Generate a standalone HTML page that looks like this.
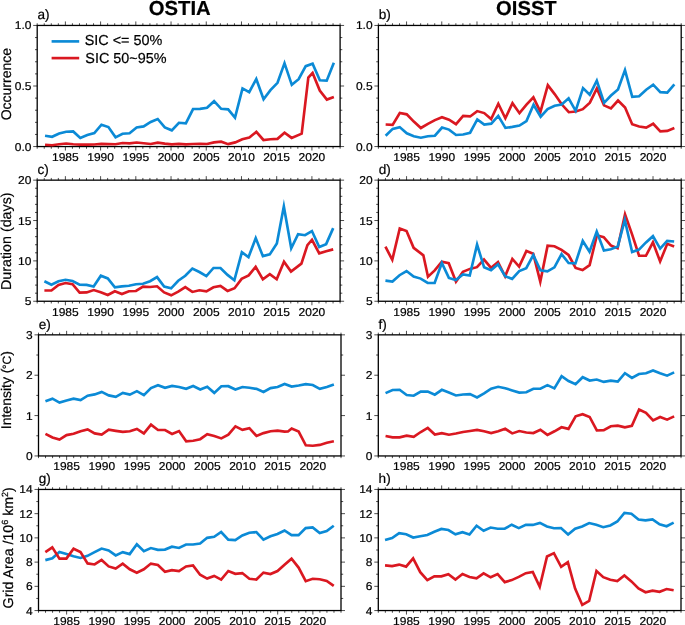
<!DOCTYPE html>
<html><head><meta charset="utf-8"><style>
html,body{margin:0;padding:0;background:#fff;}
svg{display:block;will-change:transform;}
text{font-family:"Liberation Sans", sans-serif;fill:#000;stroke:#000;stroke-width:0.2px;text-rendering:geometricPrecision;}
.t{font-size:11.4px;}
.p{font-size:14px;}
.ttl{font-size:19.6px;font-weight:bold;}
</style></head><body>
<svg width="685" height="625" viewBox="0 0 685 625">
<rect width="685" height="625" fill="#fff"/>
<rect x="37.2" y="25.45" width="302.9" height="121.1" fill="none" stroke="#000" stroke-width="1.3"/>
<path d="M33.2 146.55h4M340.1 146.55h4M35 134.44h2.2M340.1 134.44h2.2M35 122.33h2.2M340.1 122.33h2.2M35 110.22h2.2M340.1 110.22h2.2M35 98.11h2.2M340.1 98.11h2.2M33.2 86h4M340.1 86h4M35 73.89h2.2M340.1 73.89h2.2M35 61.78h2.2M340.1 61.78h2.2M35 49.67h2.2M340.1 49.67h2.2M35 37.56h2.2M340.1 37.56h2.2M33.2 25.45h4M340.1 25.45h4M37.2 23.25v2.2M37.2 146.55v2.2M44.24 23.25v2.2M44.24 146.55v2.2M51.29 23.25v2.2M51.29 146.55v2.2M58.33 23.25v2.2M58.33 146.55v2.2M65.38 21.45v4M65.38 146.55v4M72.42 23.25v2.2M72.42 146.55v2.2M79.47 23.25v2.2M79.47 146.55v2.2M86.51 23.25v2.2M86.51 146.55v2.2M93.55 23.25v2.2M93.55 146.55v2.2M100.6 21.45v4M100.6 146.55v4M107.64 23.25v2.2M107.64 146.55v2.2M114.69 23.25v2.2M114.69 146.55v2.2M121.73 23.25v2.2M121.73 146.55v2.2M128.77 23.25v2.2M128.77 146.55v2.2M135.82 21.45v4M135.82 146.55v4M142.86 23.25v2.2M142.86 146.55v2.2M149.91 23.25v2.2M149.91 146.55v2.2M156.95 23.25v2.2M156.95 146.55v2.2M164 23.25v2.2M164 146.55v2.2M171.04 21.45v4M171.04 146.55v4M178.08 23.25v2.2M178.08 146.55v2.2M185.13 23.25v2.2M185.13 146.55v2.2M192.17 23.25v2.2M192.17 146.55v2.2M199.22 23.25v2.2M199.22 146.55v2.2M206.26 21.45v4M206.26 146.55v4M213.3 23.25v2.2M213.3 146.55v2.2M220.35 23.25v2.2M220.35 146.55v2.2M227.39 23.25v2.2M227.39 146.55v2.2M234.44 23.25v2.2M234.44 146.55v2.2M241.48 21.45v4M241.48 146.55v4M248.53 23.25v2.2M248.53 146.55v2.2M255.57 23.25v2.2M255.57 146.55v2.2M262.61 23.25v2.2M262.61 146.55v2.2M269.66 23.25v2.2M269.66 146.55v2.2M276.7 21.45v4M276.7 146.55v4M283.75 23.25v2.2M283.75 146.55v2.2M290.79 23.25v2.2M290.79 146.55v2.2M297.83 23.25v2.2M297.83 146.55v2.2M304.88 23.25v2.2M304.88 146.55v2.2M311.92 21.45v4M311.92 146.55v4M318.97 23.25v2.2M318.97 146.55v2.2M326.01 23.25v2.2M326.01 146.55v2.2M333.06 23.25v2.2M333.06 146.55v2.2M340.1 23.25v2.2M340.1 146.55v2.2" stroke="#000" stroke-width="0.7" fill="none"/>
<path d="M45.04,135.7 52.08,136.76 59.13,133.5 66.18,131.8 73.19,131.47 80.29,138.03 87.31,135 94.33,133.07 101.45,124.68 108.41,127.04 115.56,137.32 122.53,133.8 129.56,133.26 136.63,127.53 143.66,126.4 150.71,122 157.7,119.01 164.8,127.4 171.8,130.31 178.92,122.8 185.84,123.34 193.05,109.03 200.02,108.9 207.04,107.76 214.09,101.18 221.18,108.84 228.15,109.37 235,117.59 242.51,88.38 249.21,92.08 256.27,79.04 263.57,99.26 270.46,90.1 277.5,82.8 284.51,63.17 291.79,84.81 298.63,79.2 305.72,66.14 312.59,63.7 319.85,80.28 326.71,80.64 333.86,62.8" stroke="#0b8ad6" stroke-width="2.65" fill="none" stroke-linejoin="miter" stroke-miterlimit="10"/>
<path d="M45.04,144.8 52.09,145.2 59.13,144.2 66.18,143.5 73.22,144.2 80.27,144.6 87.31,144.6 94.35,144.5 101.4,143.9 108.44,144.1 115.49,144.2 122.53,143 129.57,143.3 136.62,142.5 143.66,143.2 150.71,144 157.75,142.7 164.8,143.6 171.84,144.3 178.88,143.9 185.93,144.3 192.97,144 200.02,143.9 207.06,144 214.1,142.4 221.15,141.7 228.19,144.16 235.24,142.4 242.28,139.3 249.33,137.5 256.34,131.85 263.46,139.99 270.46,139.3 277.48,138.85 284.56,132.75 291.61,137.87 301.7,133.62 308.32,77.61 312.59,73 319.77,90.5 326.87,99.6 333.86,97" stroke="#da1821" stroke-width="2.65" fill="none" stroke-linejoin="miter" stroke-miterlimit="10"/>
<text x="31.4" y="150.55" text-anchor="end" class="t" textLength="16.68" lengthAdjust="spacingAndGlyphs">0.0</text>
<text x="31.4" y="90" text-anchor="end" class="t" textLength="16.68" lengthAdjust="spacingAndGlyphs">0.5</text>
<text x="31.4" y="29.45" text-anchor="end" class="t" textLength="16.68" lengthAdjust="spacingAndGlyphs">1.0</text>
<text x="65.38" y="161.05" text-anchor="middle" class="t" textLength="26.69" lengthAdjust="spacingAndGlyphs">1985</text>
<text x="100.6" y="161.05" text-anchor="middle" class="t" textLength="26.69" lengthAdjust="spacingAndGlyphs">1990</text>
<text x="135.82" y="161.05" text-anchor="middle" class="t" textLength="26.69" lengthAdjust="spacingAndGlyphs">1995</text>
<text x="171.04" y="161.05" text-anchor="middle" class="t" textLength="26.69" lengthAdjust="spacingAndGlyphs">2000</text>
<text x="206.26" y="161.05" text-anchor="middle" class="t" textLength="26.69" lengthAdjust="spacingAndGlyphs">2005</text>
<text x="241.48" y="161.05" text-anchor="middle" class="t" textLength="26.69" lengthAdjust="spacingAndGlyphs">2010</text>
<text x="276.7" y="161.05" text-anchor="middle" class="t" textLength="26.69" lengthAdjust="spacingAndGlyphs">2015</text>
<text x="311.92" y="161.05" text-anchor="middle" class="t" textLength="26.69" lengthAdjust="spacingAndGlyphs">2020</text>
<text x="37.5" y="19.35" class="p" style="font-size:13.6px">a)</text>
<rect x="378.4" y="25.45" width="302.8" height="121.1" fill="none" stroke="#000" stroke-width="1.3"/>
<path d="M374.4 146.55h4M681.2 146.55h4M376.2 134.44h2.2M681.2 134.44h2.2M376.2 122.33h2.2M681.2 122.33h2.2M376.2 110.22h2.2M681.2 110.22h2.2M376.2 98.11h2.2M681.2 98.11h2.2M374.4 86h4M681.2 86h4M376.2 73.89h2.2M681.2 73.89h2.2M376.2 61.78h2.2M681.2 61.78h2.2M376.2 49.67h2.2M681.2 49.67h2.2M376.2 37.56h2.2M681.2 37.56h2.2M374.4 25.45h4M681.2 25.45h4M378.4 23.25v2.2M378.4 146.55v2.2M385.44 23.25v2.2M385.44 146.55v2.2M392.48 23.25v2.2M392.48 146.55v2.2M399.53 23.25v2.2M399.53 146.55v2.2M406.57 21.45v4M406.57 146.55v4M413.61 23.25v2.2M413.61 146.55v2.2M420.65 23.25v2.2M420.65 146.55v2.2M427.69 23.25v2.2M427.69 146.55v2.2M434.73 23.25v2.2M434.73 146.55v2.2M441.78 21.45v4M441.78 146.55v4M448.82 23.25v2.2M448.82 146.55v2.2M455.86 23.25v2.2M455.86 146.55v2.2M462.9 23.25v2.2M462.9 146.55v2.2M469.94 23.25v2.2M469.94 146.55v2.2M476.99 21.45v4M476.99 146.55v4M484.03 23.25v2.2M484.03 146.55v2.2M491.07 23.25v2.2M491.07 146.55v2.2M498.11 23.25v2.2M498.11 146.55v2.2M505.15 23.25v2.2M505.15 146.55v2.2M512.2 21.45v4M512.2 146.55v4M519.24 23.25v2.2M519.24 146.55v2.2M526.28 23.25v2.2M526.28 146.55v2.2M533.32 23.25v2.2M533.32 146.55v2.2M540.36 23.25v2.2M540.36 146.55v2.2M547.4 21.45v4M547.4 146.55v4M554.45 23.25v2.2M554.45 146.55v2.2M561.49 23.25v2.2M561.49 146.55v2.2M568.53 23.25v2.2M568.53 146.55v2.2M575.57 23.25v2.2M575.57 146.55v2.2M582.61 21.45v4M582.61 146.55v4M589.66 23.25v2.2M589.66 146.55v2.2M596.7 23.25v2.2M596.7 146.55v2.2M603.74 23.25v2.2M603.74 146.55v2.2M610.78 23.25v2.2M610.78 146.55v2.2M617.82 21.45v4M617.82 146.55v4M624.87 23.25v2.2M624.87 146.55v2.2M631.91 23.25v2.2M631.91 146.55v2.2M638.95 23.25v2.2M638.95 146.55v2.2M645.99 23.25v2.2M645.99 146.55v2.2M653.03 21.45v4M653.03 146.55v4M660.07 23.25v2.2M660.07 146.55v2.2M667.12 23.25v2.2M667.12 146.55v2.2M674.16 23.25v2.2M674.16 146.55v2.2M681.2 23.25v2.2M681.2 146.55v2.2" stroke="#000" stroke-width="0.7" fill="none"/>
<path d="M385.64,124.5 392.61,124.87 399.8,112.98 406.75,114.33 413.81,121.6 420.87,127.99 427.89,123.8 434.93,120.1 441.98,117.26 449.02,119.7 456.02,124.21 463.15,115.9 470.13,116.44 477.21,111.1 484.23,113.1 491.14,119 498.31,103.75 505.35,118.24 512.48,103.12 519.47,113.17 526.48,104.7 533.4,97.33 540.42,111.93 547.83,85.08 554.65,94.1 561.69,104.3 568.77,112.2 575.77,111.5 582.81,109.2 589.86,102.6 596.86,88.49 603.99,105.36 610.93,108.49 618.04,100.52 625.07,107.5 632.16,124.24 639.15,126.5 646.18,127.55 653.19,123.74 660.31,131.31 667.32,130.9 674.36,128" stroke="#da1821" stroke-width="2.65" fill="none" stroke-linejoin="miter" stroke-miterlimit="10"/>
<path d="M385.64,135.8 392.68,128.9 399.7,127.11 406.77,133.3 413.81,136.2 420.85,137.7 427.89,136.2 434.9,135.73 442.02,127.56 449.02,129.6 456.08,134.95 463.1,134.5 470.09,132.74 477.29,119.47 484.25,124.63 491.24,123.65 498.25,115.93 505.43,127.93 512.4,126.9 519.44,125.5 526.45,121.07 533.57,104.76 540.64,116.74 547.6,109.1 554.65,105.8 561.67,104.57 568.63,98.28 575.64,110.8 583.01,88.11 589.74,94.77 596.79,80.63 604.13,102.81 610.98,95.5 618,89.38 624.98,70.09 632.26,96.87 639.13,96.26 646.19,89.7 653.2,84.69 660.3,92.14 667.28,92.61 674.36,84.4" stroke="#0b8ad6" stroke-width="2.65" fill="none" stroke-linejoin="miter" stroke-miterlimit="10"/>
<text x="372.6" y="150.55" text-anchor="end" class="t" textLength="16.68" lengthAdjust="spacingAndGlyphs">0.0</text>
<text x="372.6" y="90" text-anchor="end" class="t" textLength="16.68" lengthAdjust="spacingAndGlyphs">0.5</text>
<text x="372.6" y="29.45" text-anchor="end" class="t" textLength="16.68" lengthAdjust="spacingAndGlyphs">1.0</text>
<text x="406.57" y="161.05" text-anchor="middle" class="t" textLength="26.69" lengthAdjust="spacingAndGlyphs">1985</text>
<text x="441.78" y="161.05" text-anchor="middle" class="t" textLength="26.69" lengthAdjust="spacingAndGlyphs">1990</text>
<text x="476.99" y="161.05" text-anchor="middle" class="t" textLength="26.69" lengthAdjust="spacingAndGlyphs">1995</text>
<text x="512.2" y="161.05" text-anchor="middle" class="t" textLength="26.69" lengthAdjust="spacingAndGlyphs">2000</text>
<text x="547.4" y="161.05" text-anchor="middle" class="t" textLength="26.69" lengthAdjust="spacingAndGlyphs">2005</text>
<text x="582.61" y="161.05" text-anchor="middle" class="t" textLength="26.69" lengthAdjust="spacingAndGlyphs">2010</text>
<text x="617.82" y="161.05" text-anchor="middle" class="t" textLength="26.69" lengthAdjust="spacingAndGlyphs">2015</text>
<text x="653.03" y="161.05" text-anchor="middle" class="t" textLength="26.69" lengthAdjust="spacingAndGlyphs">2020</text>
<text x="378.7" y="19.35" class="p" style="font-size:13.6px">b)</text>
<rect x="37.2" y="180.15" width="302.9" height="121.1" fill="none" stroke="#000" stroke-width="1.3"/>
<path d="M33.2 301.25h4M340.1 301.25h4M35 293.18h2.2M340.1 293.18h2.2M35 285.1h2.2M340.1 285.1h2.2M35 277.03h2.2M340.1 277.03h2.2M35 268.96h2.2M340.1 268.96h2.2M33.2 260.88h4M340.1 260.88h4M35 252.81h2.2M340.1 252.81h2.2M35 244.74h2.2M340.1 244.74h2.2M35 236.66h2.2M340.1 236.66h2.2M35 228.59h2.2M340.1 228.59h2.2M33.2 220.52h4M340.1 220.52h4M35 212.44h2.2M340.1 212.44h2.2M35 204.37h2.2M340.1 204.37h2.2M35 196.3h2.2M340.1 196.3h2.2M35 188.22h2.2M340.1 188.22h2.2M33.2 180.15h4M340.1 180.15h4M37.2 177.95v2.2M37.2 301.25v2.2M44.24 177.95v2.2M44.24 301.25v2.2M51.29 177.95v2.2M51.29 301.25v2.2M58.33 177.95v2.2M58.33 301.25v2.2M65.38 176.15v4M65.38 301.25v4M72.42 177.95v2.2M72.42 301.25v2.2M79.47 177.95v2.2M79.47 301.25v2.2M86.51 177.95v2.2M86.51 301.25v2.2M93.55 177.95v2.2M93.55 301.25v2.2M100.6 176.15v4M100.6 301.25v4M107.64 177.95v2.2M107.64 301.25v2.2M114.69 177.95v2.2M114.69 301.25v2.2M121.73 177.95v2.2M121.73 301.25v2.2M128.77 177.95v2.2M128.77 301.25v2.2M135.82 176.15v4M135.82 301.25v4M142.86 177.95v2.2M142.86 301.25v2.2M149.91 177.95v2.2M149.91 301.25v2.2M156.95 177.95v2.2M156.95 301.25v2.2M164 177.95v2.2M164 301.25v2.2M171.04 176.15v4M171.04 301.25v4M178.08 177.95v2.2M178.08 301.25v2.2M185.13 177.95v2.2M185.13 301.25v2.2M192.17 177.95v2.2M192.17 301.25v2.2M199.22 177.95v2.2M199.22 301.25v2.2M206.26 176.15v4M206.26 301.25v4M213.3 177.95v2.2M213.3 301.25v2.2M220.35 177.95v2.2M220.35 301.25v2.2M227.39 177.95v2.2M227.39 301.25v2.2M234.44 177.95v2.2M234.44 301.25v2.2M241.48 176.15v4M241.48 301.25v4M248.53 177.95v2.2M248.53 301.25v2.2M255.57 177.95v2.2M255.57 301.25v2.2M262.61 177.95v2.2M262.61 301.25v2.2M269.66 177.95v2.2M269.66 301.25v2.2M276.7 176.15v4M276.7 301.25v4M283.75 177.95v2.2M283.75 301.25v2.2M290.79 177.95v2.2M290.79 301.25v2.2M297.83 177.95v2.2M297.83 301.25v2.2M304.88 177.95v2.2M304.88 301.25v2.2M311.92 176.15v4M311.92 301.25v4M318.97 177.95v2.2M318.97 301.25v2.2M326.01 177.95v2.2M326.01 301.25v2.2M333.06 177.95v2.2M333.06 301.25v2.2M340.1 177.95v2.2M340.1 301.25v2.2" stroke="#000" stroke-width="0.7" fill="none"/>
<path d="M44.39,281.3 51.44,284.8 58.48,281.3 65.53,279.8 72.57,281 79.62,284.6 86.66,284.9 93.63,286.52 100.83,275.65 107.79,278.4 114.88,287.28 121.88,286.4 128.92,285.7 135.97,284.2 143.01,283.7 150.06,281.2 157.04,277.1 164.17,286.56 171.15,288.37 178.23,280.8 185.28,275.7 192.36,268.6 199.37,272 206.37,276.13 213.49,267.98 220.47,267.96 227.54,274.9 234.35,280.28 241.87,252.25 248.5,257.14 255.74,238.13 262.9,256.13 269.77,254.35 276.85,243.4 283.84,206.45 291.23,248.3 298.09,234.2 305.02,235.24 311.94,231.05 319.25,246.98 326.12,244.16 333.21,228.1" stroke="#0b8ad6" stroke-width="2.65" fill="none" stroke-linejoin="miter" stroke-miterlimit="10"/>
<path d="M44.39,290.5 51.42,290.45 58.48,284.9 65.53,283 72.54,284.25 79.65,292.61 86.66,292.4 93.7,290.04 100.75,292.2 107.79,295.01 114.84,291.29 121.88,294.03 128.92,291.2 135.96,290.97 143.02,286.64 150.06,287 157.08,286.27 164.15,292.4 171.19,295.31 178.23,291.7 185.28,287.18 192.34,291.92 199.37,290.3 206.4,291.35 213.45,287.3 220.48,285.97 227.56,290.89 234.57,288.18 241.63,278.9 248.68,275.4 255.66,266.82 262.86,279.32 269.81,274.15 276.7,279.21 284,261.65 291.01,271.59 301.41,263.58 307.42,245.2 312,239.76 319.22,253.35 326.16,251.2 333.21,249.4" stroke="#da1821" stroke-width="2.65" fill="none" stroke-linejoin="miter" stroke-miterlimit="10"/>
<text x="31.4" y="305.25" text-anchor="end" class="t" textLength="6.67" lengthAdjust="spacingAndGlyphs">5</text>
<text x="31.4" y="264.88" text-anchor="end" class="t" textLength="13.34" lengthAdjust="spacingAndGlyphs">10</text>
<text x="31.4" y="224.52" text-anchor="end" class="t" textLength="13.34" lengthAdjust="spacingAndGlyphs">15</text>
<text x="31.4" y="184.15" text-anchor="end" class="t" textLength="13.34" lengthAdjust="spacingAndGlyphs">20</text>
<text x="65.38" y="315.75" text-anchor="middle" class="t" textLength="26.69" lengthAdjust="spacingAndGlyphs">1985</text>
<text x="100.6" y="315.75" text-anchor="middle" class="t" textLength="26.69" lengthAdjust="spacingAndGlyphs">1990</text>
<text x="135.82" y="315.75" text-anchor="middle" class="t" textLength="26.69" lengthAdjust="spacingAndGlyphs">1995</text>
<text x="171.04" y="315.75" text-anchor="middle" class="t" textLength="26.69" lengthAdjust="spacingAndGlyphs">2000</text>
<text x="206.26" y="315.75" text-anchor="middle" class="t" textLength="26.69" lengthAdjust="spacingAndGlyphs">2005</text>
<text x="241.48" y="315.75" text-anchor="middle" class="t" textLength="26.69" lengthAdjust="spacingAndGlyphs">2010</text>
<text x="276.7" y="315.75" text-anchor="middle" class="t" textLength="26.69" lengthAdjust="spacingAndGlyphs">2015</text>
<text x="311.92" y="315.75" text-anchor="middle" class="t" textLength="26.69" lengthAdjust="spacingAndGlyphs">2020</text>
<text x="37.5" y="174.05" class="p" style="font-size:13.6px">c)</text>
<rect x="378.4" y="180.15" width="302.8" height="121.1" fill="none" stroke="#000" stroke-width="1.3"/>
<path d="M374.4 301.25h4M681.2 301.25h4M376.2 293.18h2.2M681.2 293.18h2.2M376.2 285.1h2.2M681.2 285.1h2.2M376.2 277.03h2.2M681.2 277.03h2.2M376.2 268.96h2.2M681.2 268.96h2.2M374.4 260.88h4M681.2 260.88h4M376.2 252.81h2.2M681.2 252.81h2.2M376.2 244.74h2.2M681.2 244.74h2.2M376.2 236.66h2.2M681.2 236.66h2.2M376.2 228.59h2.2M681.2 228.59h2.2M374.4 220.52h4M681.2 220.52h4M376.2 212.44h2.2M681.2 212.44h2.2M376.2 204.37h2.2M681.2 204.37h2.2M376.2 196.3h2.2M681.2 196.3h2.2M376.2 188.22h2.2M681.2 188.22h2.2M374.4 180.15h4M681.2 180.15h4M378.4 177.95v2.2M378.4 301.25v2.2M385.44 177.95v2.2M385.44 301.25v2.2M392.48 177.95v2.2M392.48 301.25v2.2M399.53 177.95v2.2M399.53 301.25v2.2M406.57 176.15v4M406.57 301.25v4M413.61 177.95v2.2M413.61 301.25v2.2M420.65 177.95v2.2M420.65 301.25v2.2M427.69 177.95v2.2M427.69 301.25v2.2M434.73 177.95v2.2M434.73 301.25v2.2M441.78 176.15v4M441.78 301.25v4M448.82 177.95v2.2M448.82 301.25v2.2M455.86 177.95v2.2M455.86 301.25v2.2M462.9 177.95v2.2M462.9 301.25v2.2M469.94 177.95v2.2M469.94 301.25v2.2M476.99 176.15v4M476.99 301.25v4M484.03 177.95v2.2M484.03 301.25v2.2M491.07 177.95v2.2M491.07 301.25v2.2M498.11 177.95v2.2M498.11 301.25v2.2M505.15 177.95v2.2M505.15 301.25v2.2M512.2 176.15v4M512.2 301.25v4M519.24 177.95v2.2M519.24 301.25v2.2M526.28 177.95v2.2M526.28 301.25v2.2M533.32 177.95v2.2M533.32 301.25v2.2M540.36 177.95v2.2M540.36 301.25v2.2M547.4 176.15v4M547.4 301.25v4M554.45 177.95v2.2M554.45 301.25v2.2M561.49 177.95v2.2M561.49 301.25v2.2M568.53 177.95v2.2M568.53 301.25v2.2M575.57 177.95v2.2M575.57 301.25v2.2M582.61 176.15v4M582.61 301.25v4M589.66 177.95v2.2M589.66 301.25v2.2M596.7 177.95v2.2M596.7 301.25v2.2M603.74 177.95v2.2M603.74 301.25v2.2M610.78 177.95v2.2M610.78 301.25v2.2M617.82 176.15v4M617.82 301.25v4M624.87 177.95v2.2M624.87 301.25v2.2M631.91 177.95v2.2M631.91 301.25v2.2M638.95 177.95v2.2M638.95 301.25v2.2M645.99 177.95v2.2M645.99 301.25v2.2M653.03 176.15v4M653.03 301.25v4M660.07 177.95v2.2M660.07 301.25v2.2M667.12 177.95v2.2M667.12 301.25v2.2M674.16 177.95v2.2M674.16 301.25v2.2M681.2 177.95v2.2M681.2 301.25v2.2" stroke="#000" stroke-width="0.7" fill="none"/>
<path d="M385.44,246.7 392.28,259.85 399.74,228.42 406.52,231.05 413.63,247.88 423.35,255.33 427.97,276.78 434.73,270.4 441.83,261.64 448.74,263.19 455.98,281.76 462.93,271.83 469.94,268.9 476.96,267.17 484.01,259.57 491.1,267.8 497.99,262.19 505.11,276.3 512.33,258.9 519.14,266.58 526.41,251.01 533.24,253.67 540.29,281.66 547.59,245.74 554.45,246.3 561.49,249.9 568.53,255 575.61,267.95 582.6,270.01 589.61,265.17 596.89,235.33 603.72,237.13 610.78,245.4 617.59,248.24 625.02,214.31 631.91,233.9 639.06,255.74 645.91,255.77 652.94,242.33 660.11,261.45 667.27,243.85 674.16,246.6" stroke="#da1821" stroke-width="2.65" fill="none" stroke-linejoin="miter" stroke-miterlimit="10"/>
<path d="M385.44,280.6 392.46,281.52 399.53,275.2 406.56,270.99 413.61,276.6 420.65,278.6 427.7,282.97 434.62,282.84 441.84,263.01 448.88,277.94 455.84,279.99 462.92,274.39 469.75,275.6 477.07,244.58 484.1,267.34 491.04,270.24 498.04,264.3 505.18,276.16 512.15,278.92 519.24,271.1 526.24,268.16 533.29,255.05 540.44,270.3 547.4,271.35 554.42,267.37 561.55,254.07 568.57,263.03 575.44,263.41 582.75,240.97 589.53,251.75 596.73,231.59 603.88,250.55 610.78,249.2 617.74,246.43 624.81,220.02 632.13,251.99 638.95,249.6 645.99,242.4 652.94,236.15 660.15,248.63 667.16,240.9 674.16,241.5" stroke="#0b8ad6" stroke-width="2.65" fill="none" stroke-linejoin="miter" stroke-miterlimit="10"/>
<text x="372.6" y="305.25" text-anchor="end" class="t" textLength="6.67" lengthAdjust="spacingAndGlyphs">5</text>
<text x="372.6" y="264.88" text-anchor="end" class="t" textLength="13.34" lengthAdjust="spacingAndGlyphs">10</text>
<text x="372.6" y="224.52" text-anchor="end" class="t" textLength="13.34" lengthAdjust="spacingAndGlyphs">15</text>
<text x="372.6" y="184.15" text-anchor="end" class="t" textLength="13.34" lengthAdjust="spacingAndGlyphs">20</text>
<text x="406.57" y="315.75" text-anchor="middle" class="t" textLength="26.69" lengthAdjust="spacingAndGlyphs">1985</text>
<text x="441.78" y="315.75" text-anchor="middle" class="t" textLength="26.69" lengthAdjust="spacingAndGlyphs">1990</text>
<text x="476.99" y="315.75" text-anchor="middle" class="t" textLength="26.69" lengthAdjust="spacingAndGlyphs">1995</text>
<text x="512.2" y="315.75" text-anchor="middle" class="t" textLength="26.69" lengthAdjust="spacingAndGlyphs">2000</text>
<text x="547.4" y="315.75" text-anchor="middle" class="t" textLength="26.69" lengthAdjust="spacingAndGlyphs">2005</text>
<text x="582.61" y="315.75" text-anchor="middle" class="t" textLength="26.69" lengthAdjust="spacingAndGlyphs">2010</text>
<text x="617.82" y="315.75" text-anchor="middle" class="t" textLength="26.69" lengthAdjust="spacingAndGlyphs">2015</text>
<text x="653.03" y="315.75" text-anchor="middle" class="t" textLength="26.69" lengthAdjust="spacingAndGlyphs">2020</text>
<text x="378.7" y="174.05" class="p" style="font-size:13.6px">d)</text>
<rect x="38.5" y="334.85" width="302.5" height="121.1" fill="none" stroke="#000" stroke-width="1.3"/>
<path d="M34.5 455.95h4M341 455.95h4M36.3 435.77h2.2M341 435.77h2.2M34.5 415.58h4M341 415.58h4M36.3 395.4h2.2M341 395.4h2.2M34.5 375.22h4M341 375.22h4M36.3 355.03h2.2M341 355.03h2.2M34.5 334.85h4M341 334.85h4M38.5 332.65v2.2M38.5 455.95v2.2M45.53 332.65v2.2M45.53 455.95v2.2M52.57 332.65v2.2M52.57 455.95v2.2M59.6 332.65v2.2M59.6 455.95v2.2M66.64 330.85v4M66.64 455.95v4M73.67 332.65v2.2M73.67 455.95v2.2M80.71 332.65v2.2M80.71 455.95v2.2M87.74 332.65v2.2M87.74 455.95v2.2M94.78 332.65v2.2M94.78 455.95v2.2M101.81 330.85v4M101.81 455.95v4M108.85 332.65v2.2M108.85 455.95v2.2M115.88 332.65v2.2M115.88 455.95v2.2M122.92 332.65v2.2M122.92 455.95v2.2M129.95 332.65v2.2M129.95 455.95v2.2M136.99 330.85v4M136.99 455.95v4M144.02 332.65v2.2M144.02 455.95v2.2M151.06 332.65v2.2M151.06 455.95v2.2M158.09 332.65v2.2M158.09 455.95v2.2M165.13 332.65v2.2M165.13 455.95v2.2M172.16 330.85v4M172.16 455.95v4M179.2 332.65v2.2M179.2 455.95v2.2M186.23 332.65v2.2M186.23 455.95v2.2M193.27 332.65v2.2M193.27 455.95v2.2M200.3 332.65v2.2M200.3 455.95v2.2M207.34 330.85v4M207.34 455.95v4M214.37 332.65v2.2M214.37 455.95v2.2M221.41 332.65v2.2M221.41 455.95v2.2M228.44 332.65v2.2M228.44 455.95v2.2M235.48 332.65v2.2M235.48 455.95v2.2M242.51 330.85v4M242.51 455.95v4M249.55 332.65v2.2M249.55 455.95v2.2M256.58 332.65v2.2M256.58 455.95v2.2M263.62 332.65v2.2M263.62 455.95v2.2M270.65 332.65v2.2M270.65 455.95v2.2M277.69 330.85v4M277.69 455.95v4M284.72 332.65v2.2M284.72 455.95v2.2M291.76 332.65v2.2M291.76 455.95v2.2M298.79 332.65v2.2M298.79 455.95v2.2M305.83 332.65v2.2M305.83 455.95v2.2M312.86 330.85v4M312.86 455.95v4M319.9 332.65v2.2M319.9 455.95v2.2M326.93 332.65v2.2M326.93 455.95v2.2M333.97 332.65v2.2M333.97 455.95v2.2M341 332.65v2.2M341 455.95v2.2" stroke="#000" stroke-width="0.7" fill="none"/>
<path d="M45.43,401.3 52.46,398.69 59.51,402.62 66.54,400.5 73.57,398.6 80.6,400.04 87.64,395.7 94.68,394.4 101.71,391.88 108.75,395.4 115.77,396.84 122.83,392.87 129.85,394.64 136.88,391.13 143.89,395.17 150.96,388.1 157.99,385.26 165.03,387.76 172.06,385.9 179.1,387 186.13,388.85 193.16,385.99 200.21,389.51 207.21,386.85 214.27,392.88 221.33,386.26 228.34,386.2 235.38,389.53 242.41,387 249.45,387.7 256.48,388.9 263.51,392 270.55,388.1 277.59,387 284.62,383.97 291.66,386.6 298.69,385.5 305.73,384.2 312.76,385 319.8,388.84 326.83,387 333.87,384.5" stroke="#0b8ad6" stroke-width="2.65" fill="none" stroke-linejoin="miter" stroke-miterlimit="10"/>
<path d="M45.43,433.8 52.47,437.5 59.49,439.61 66.54,435.1 73.57,433.8 80.61,431.2 87.64,429.37 94.68,433.4 101.7,434.54 108.76,429.76 115.78,430.9 122.82,431.9 129.85,431.2 136.88,428.99 143.87,433.39 151,424.66 158.01,429.95 165.02,430.03 172.07,433.99 179.03,431.05 186.19,441.28 193.17,440.7 200.2,439.2 207.25,434.19 214.27,436 221.3,438.42 228.34,434.6 235.42,426.43 242.42,429.84 249.4,428.14 256.53,436 263.52,433.1 270.55,431.2 277.59,430.7 284.62,431.6 287.98,431.55 291.68,428.46 298.66,431.54 305.8,445.29 312.76,445.7 319.8,444.9 326.83,442.8 333.87,441.3" stroke="#da1821" stroke-width="2.65" fill="none" stroke-linejoin="miter" stroke-miterlimit="10"/>
<text x="32.7" y="459.95" text-anchor="end" class="t" textLength="6.67" lengthAdjust="spacingAndGlyphs">0</text>
<text x="32.7" y="419.58" text-anchor="end" class="t" textLength="6.67" lengthAdjust="spacingAndGlyphs">1</text>
<text x="32.7" y="379.22" text-anchor="end" class="t" textLength="6.67" lengthAdjust="spacingAndGlyphs">2</text>
<text x="32.7" y="338.85" text-anchor="end" class="t" textLength="6.67" lengthAdjust="spacingAndGlyphs">3</text>
<text x="66.64" y="470.45" text-anchor="middle" class="t" textLength="26.69" lengthAdjust="spacingAndGlyphs">1985</text>
<text x="101.81" y="470.45" text-anchor="middle" class="t" textLength="26.69" lengthAdjust="spacingAndGlyphs">1990</text>
<text x="136.99" y="470.45" text-anchor="middle" class="t" textLength="26.69" lengthAdjust="spacingAndGlyphs">1995</text>
<text x="172.16" y="470.45" text-anchor="middle" class="t" textLength="26.69" lengthAdjust="spacingAndGlyphs">2000</text>
<text x="207.34" y="470.45" text-anchor="middle" class="t" textLength="26.69" lengthAdjust="spacingAndGlyphs">2005</text>
<text x="242.51" y="470.45" text-anchor="middle" class="t" textLength="26.69" lengthAdjust="spacingAndGlyphs">2010</text>
<text x="277.69" y="470.45" text-anchor="middle" class="t" textLength="26.69" lengthAdjust="spacingAndGlyphs">2015</text>
<text x="312.86" y="470.45" text-anchor="middle" class="t" textLength="26.69" lengthAdjust="spacingAndGlyphs">2020</text>
<text x="38.8" y="328.75" class="p" style="font-size:13.6px">e)</text>
<rect x="378.3" y="334.85" width="302.7" height="121.1" fill="none" stroke="#000" stroke-width="1.3"/>
<path d="M374.3 455.95h4M681 455.95h4M376.1 435.77h2.2M681 435.77h2.2M374.3 415.58h4M681 415.58h4M376.1 395.4h2.2M681 395.4h2.2M374.3 375.22h4M681 375.22h4M376.1 355.03h2.2M681 355.03h2.2M374.3 334.85h4M681 334.85h4M378.3 332.65v2.2M378.3 455.95v2.2M385.34 332.65v2.2M385.34 455.95v2.2M392.38 332.65v2.2M392.38 455.95v2.2M399.42 332.65v2.2M399.42 455.95v2.2M406.46 330.85v4M406.46 455.95v4M413.5 332.65v2.2M413.5 455.95v2.2M420.54 332.65v2.2M420.54 455.95v2.2M427.58 332.65v2.2M427.58 455.95v2.2M434.62 332.65v2.2M434.62 455.95v2.2M441.66 330.85v4M441.66 455.95v4M448.7 332.65v2.2M448.7 455.95v2.2M455.73 332.65v2.2M455.73 455.95v2.2M462.77 332.65v2.2M462.77 455.95v2.2M469.81 332.65v2.2M469.81 455.95v2.2M476.85 330.85v4M476.85 455.95v4M483.89 332.65v2.2M483.89 455.95v2.2M490.93 332.65v2.2M490.93 455.95v2.2M497.97 332.65v2.2M497.97 455.95v2.2M505.01 332.65v2.2M505.01 455.95v2.2M512.05 330.85v4M512.05 455.95v4M519.09 332.65v2.2M519.09 455.95v2.2M526.13 332.65v2.2M526.13 455.95v2.2M533.17 332.65v2.2M533.17 455.95v2.2M540.21 332.65v2.2M540.21 455.95v2.2M547.25 330.85v4M547.25 455.95v4M554.29 332.65v2.2M554.29 455.95v2.2M561.33 332.65v2.2M561.33 455.95v2.2M568.37 332.65v2.2M568.37 455.95v2.2M575.41 332.65v2.2M575.41 455.95v2.2M582.45 330.85v4M582.45 455.95v4M589.49 332.65v2.2M589.49 455.95v2.2M596.53 332.65v2.2M596.53 455.95v2.2M603.57 332.65v2.2M603.57 455.95v2.2M610.6 332.65v2.2M610.6 455.95v2.2M617.64 330.85v4M617.64 455.95v4M624.68 332.65v2.2M624.68 455.95v2.2M631.72 332.65v2.2M631.72 455.95v2.2M638.76 332.65v2.2M638.76 455.95v2.2M645.8 332.65v2.2M645.8 455.95v2.2M652.84 330.85v4M652.84 455.95v4M659.88 332.65v2.2M659.88 455.95v2.2M666.92 332.65v2.2M666.92 455.95v2.2M673.96 332.65v2.2M673.96 455.95v2.2M681 332.65v2.2M681 455.95v2.2" stroke="#000" stroke-width="0.7" fill="none"/>
<path d="M385.54,436 392.58,437.4 399.62,437.4 406.66,435.7 413.68,436.84 420.74,432 427.75,427.92 434.85,434.59 441.86,433.1 448.9,434.7 455.93,433.5 462.97,432 470.01,431 477.05,429.9 484.09,431.3 491.13,433.1 498.17,431.3 505.2,428.8 512.26,433.4 519.29,431.03 526.33,432.5 533.36,433.07 540.4,429.75 547.46,434.85 554.49,431.3 561.54,427.27 568.48,428.89 575.65,416.25 582.64,414.15 589.65,416.94 596.81,430.46 603.77,430.1 610.8,426.3 617.84,425.7 624.88,427.3 631.85,425.91 639.1,409.56 646,412.8 653.08,420.48 660.09,416.98 667.12,419.63 674.16,416.4" stroke="#da1821" stroke-width="2.65" fill="none" stroke-linejoin="miter" stroke-miterlimit="10"/>
<path d="M385.54,393.1 392.58,390 399.6,389.75 406.67,395.07 413.69,395.76 420.75,391.53 427.78,391.6 434.8,394.67 441.87,389.82 448.9,392.6 455.94,395.47 462.97,394.5 470.01,394.1 477.05,397.39 484.09,393.4 491.13,388.7 498.17,386.8 505.21,388.2 512.25,390.4 519.29,392.6 526.33,392.3 533.37,388.7 540.41,388.7 547.45,385.11 554.39,388.38 561.62,376.22 568.57,381 575.57,384.21 582.68,377.2 589.69,380.56 596.73,379.5 603.77,381.9 610.8,380.6 617.8,381.68 624.93,373.22 631.93,377.94 638.96,374 646,373.2 653.04,370.46 660.08,373.2 667.12,375.63 674.16,372.4" stroke="#0b8ad6" stroke-width="2.65" fill="none" stroke-linejoin="miter" stroke-miterlimit="10"/>
<text x="372.5" y="459.95" text-anchor="end" class="t" textLength="6.67" lengthAdjust="spacingAndGlyphs">0</text>
<text x="372.5" y="419.58" text-anchor="end" class="t" textLength="6.67" lengthAdjust="spacingAndGlyphs">1</text>
<text x="372.5" y="379.22" text-anchor="end" class="t" textLength="6.67" lengthAdjust="spacingAndGlyphs">2</text>
<text x="372.5" y="338.85" text-anchor="end" class="t" textLength="6.67" lengthAdjust="spacingAndGlyphs">3</text>
<text x="406.46" y="470.45" text-anchor="middle" class="t" textLength="26.69" lengthAdjust="spacingAndGlyphs">1985</text>
<text x="441.66" y="470.45" text-anchor="middle" class="t" textLength="26.69" lengthAdjust="spacingAndGlyphs">1990</text>
<text x="476.85" y="470.45" text-anchor="middle" class="t" textLength="26.69" lengthAdjust="spacingAndGlyphs">1995</text>
<text x="512.05" y="470.45" text-anchor="middle" class="t" textLength="26.69" lengthAdjust="spacingAndGlyphs">2000</text>
<text x="547.25" y="470.45" text-anchor="middle" class="t" textLength="26.69" lengthAdjust="spacingAndGlyphs">2005</text>
<text x="582.45" y="470.45" text-anchor="middle" class="t" textLength="26.69" lengthAdjust="spacingAndGlyphs">2010</text>
<text x="617.64" y="470.45" text-anchor="middle" class="t" textLength="26.69" lengthAdjust="spacingAndGlyphs">2015</text>
<text x="652.84" y="470.45" text-anchor="middle" class="t" textLength="26.69" lengthAdjust="spacingAndGlyphs">2020</text>
<text x="378.6" y="328.75" class="p" style="font-size:13.6px">f)</text>
<rect x="38.5" y="489.45" width="302.5" height="121.1" fill="none" stroke="#000" stroke-width="1.3"/>
<path d="M34.5 610.55h4M341 610.55h4M36.3 598.44h2.2M341 598.44h2.2M34.5 586.33h4M341 586.33h4M36.3 574.22h2.2M341 574.22h2.2M34.5 562.11h4M341 562.11h4M36.3 550h2.2M341 550h2.2M34.5 537.89h4M341 537.89h4M36.3 525.78h2.2M341 525.78h2.2M34.5 513.67h4M341 513.67h4M36.3 501.56h2.2M341 501.56h2.2M34.5 489.45h4M341 489.45h4M38.5 487.25v2.2M38.5 610.55v2.2M45.53 487.25v2.2M45.53 610.55v2.2M52.57 487.25v2.2M52.57 610.55v2.2M59.6 487.25v2.2M59.6 610.55v2.2M66.64 485.45v4M66.64 610.55v4M73.67 487.25v2.2M73.67 610.55v2.2M80.71 487.25v2.2M80.71 610.55v2.2M87.74 487.25v2.2M87.74 610.55v2.2M94.78 487.25v2.2M94.78 610.55v2.2M101.81 485.45v4M101.81 610.55v4M108.85 487.25v2.2M108.85 610.55v2.2M115.88 487.25v2.2M115.88 610.55v2.2M122.92 487.25v2.2M122.92 610.55v2.2M129.95 487.25v2.2M129.95 610.55v2.2M136.99 485.45v4M136.99 610.55v4M144.02 487.25v2.2M144.02 610.55v2.2M151.06 487.25v2.2M151.06 610.55v2.2M158.09 487.25v2.2M158.09 610.55v2.2M165.13 487.25v2.2M165.13 610.55v2.2M172.16 485.45v4M172.16 610.55v4M179.2 487.25v2.2M179.2 610.55v2.2M186.23 487.25v2.2M186.23 610.55v2.2M193.27 487.25v2.2M193.27 610.55v2.2M200.3 487.25v2.2M200.3 610.55v2.2M207.34 485.45v4M207.34 610.55v4M214.37 487.25v2.2M214.37 610.55v2.2M221.41 487.25v2.2M221.41 610.55v2.2M228.44 487.25v2.2M228.44 610.55v2.2M235.48 487.25v2.2M235.48 610.55v2.2M242.51 485.45v4M242.51 610.55v4M249.55 487.25v2.2M249.55 610.55v2.2M256.58 487.25v2.2M256.58 610.55v2.2M263.62 487.25v2.2M263.62 610.55v2.2M270.65 487.25v2.2M270.65 610.55v2.2M277.69 485.45v4M277.69 610.55v4M284.72 487.25v2.2M284.72 610.55v2.2M291.76 487.25v2.2M291.76 610.55v2.2M298.79 487.25v2.2M298.79 610.55v2.2M305.83 487.25v2.2M305.83 610.55v2.2M312.86 485.45v4M312.86 610.55v4M319.9 487.25v2.2M319.9 610.55v2.2M326.93 487.25v2.2M326.93 610.55v2.2M333.97 487.25v2.2M333.97 610.55v2.2M341 487.25v2.2M341 610.55v2.2" stroke="#000" stroke-width="0.7" fill="none"/>
<path d="M45.33,560.1 52.37,558.2 59.43,551.92 66.44,553.9 73.47,556.2 80.51,557.97 87.54,555.8 94.58,552.1 101.62,548.56 108.65,550.4 115.7,555.36 122.72,552.16 129.69,554.11 136.83,544.3 143.86,551.2 150.86,548.06 157.89,549.9 164.93,549.6 171.97,546.73 178.99,547.96 186.03,544.5 193.07,544.5 200.09,543.57 207.15,537.83 214.17,536.8 221.17,531.99 228.27,539.64 235.27,540.06 242.31,535.5 249.35,532.7 256.34,532.09 263.46,539.69 270.45,536.3 277.49,533.9 284.51,530.44 291.57,535.16 298.56,535.14 305.65,528.14 312.64,527.37 319.72,533 326.73,531.1 333.77,525.7" stroke="#0b8ad6" stroke-width="2.65" fill="none" stroke-linejoin="miter" stroke-miterlimit="10"/>
<path d="M45.33,552.1 52.29,547.39 59.46,558.59 66.39,558.61 73.54,548.76 80.49,552.12 87.59,563.43 94.57,564.44 101.59,559.93 108.65,566.4 115.67,568.5 122.71,563.62 129.75,569.3 136.79,572.7 143.82,569.3 150.88,563.59 157.88,565.03 164.96,571.69 171.96,570.1 178.98,571.04 186.03,566.4 193.02,565.43 200.1,574.7 207.14,578.61 214.17,575.89 221.16,579.63 228.3,571.01 235.28,573.8 242.29,573.07 249.36,578.77 256.35,579.51 263.45,572.61 270.45,574.06 277.49,571 284.52,564.7 291.52,558.69 298.59,567.6 305.73,581.23 312.66,578.8 319.7,579.3 326.73,580.9 333.77,585.9" stroke="#da1821" stroke-width="2.65" fill="none" stroke-linejoin="miter" stroke-miterlimit="10"/>
<text x="32.7" y="614.55" text-anchor="end" class="t" textLength="6.67" lengthAdjust="spacingAndGlyphs">4</text>
<text x="32.7" y="590.33" text-anchor="end" class="t" textLength="6.67" lengthAdjust="spacingAndGlyphs">6</text>
<text x="32.7" y="566.11" text-anchor="end" class="t" textLength="6.67" lengthAdjust="spacingAndGlyphs">8</text>
<text x="32.7" y="541.89" text-anchor="end" class="t" textLength="13.34" lengthAdjust="spacingAndGlyphs">10</text>
<text x="32.7" y="517.67" text-anchor="end" class="t" textLength="13.34" lengthAdjust="spacingAndGlyphs">12</text>
<text x="32.7" y="493.45" text-anchor="end" class="t" textLength="13.34" lengthAdjust="spacingAndGlyphs">14</text>
<text x="66.64" y="625.05" text-anchor="middle" class="t" textLength="26.69" lengthAdjust="spacingAndGlyphs">1985</text>
<text x="101.81" y="625.05" text-anchor="middle" class="t" textLength="26.69" lengthAdjust="spacingAndGlyphs">1990</text>
<text x="136.99" y="625.05" text-anchor="middle" class="t" textLength="26.69" lengthAdjust="spacingAndGlyphs">1995</text>
<text x="172.16" y="625.05" text-anchor="middle" class="t" textLength="26.69" lengthAdjust="spacingAndGlyphs">2000</text>
<text x="207.34" y="625.05" text-anchor="middle" class="t" textLength="26.69" lengthAdjust="spacingAndGlyphs">2005</text>
<text x="242.51" y="625.05" text-anchor="middle" class="t" textLength="26.69" lengthAdjust="spacingAndGlyphs">2010</text>
<text x="277.69" y="625.05" text-anchor="middle" class="t" textLength="26.69" lengthAdjust="spacingAndGlyphs">2015</text>
<text x="312.86" y="625.05" text-anchor="middle" class="t" textLength="26.69" lengthAdjust="spacingAndGlyphs">2020</text>
<text x="38.8" y="483.35" class="p" style="font-size:13.6px">g)</text>
<rect x="378.3" y="489.45" width="302.7" height="121.1" fill="none" stroke="#000" stroke-width="1.3"/>
<path d="M374.3 610.55h4M681 610.55h4M376.1 598.44h2.2M681 598.44h2.2M374.3 586.33h4M681 586.33h4M376.1 574.22h2.2M681 574.22h2.2M374.3 562.11h4M681 562.11h4M376.1 550h2.2M681 550h2.2M374.3 537.89h4M681 537.89h4M376.1 525.78h2.2M681 525.78h2.2M374.3 513.67h4M681 513.67h4M376.1 501.56h2.2M681 501.56h2.2M374.3 489.45h4M681 489.45h4M378.3 487.25v2.2M378.3 610.55v2.2M385.34 487.25v2.2M385.34 610.55v2.2M392.38 487.25v2.2M392.38 610.55v2.2M399.42 487.25v2.2M399.42 610.55v2.2M406.46 485.45v4M406.46 610.55v4M413.5 487.25v2.2M413.5 610.55v2.2M420.54 487.25v2.2M420.54 610.55v2.2M427.58 487.25v2.2M427.58 610.55v2.2M434.62 487.25v2.2M434.62 610.55v2.2M441.66 485.45v4M441.66 610.55v4M448.7 487.25v2.2M448.7 610.55v2.2M455.73 487.25v2.2M455.73 610.55v2.2M462.77 487.25v2.2M462.77 610.55v2.2M469.81 487.25v2.2M469.81 610.55v2.2M476.85 485.45v4M476.85 610.55v4M483.89 487.25v2.2M483.89 610.55v2.2M490.93 487.25v2.2M490.93 610.55v2.2M497.97 487.25v2.2M497.97 610.55v2.2M505.01 487.25v2.2M505.01 610.55v2.2M512.05 485.45v4M512.05 610.55v4M519.09 487.25v2.2M519.09 610.55v2.2M526.13 487.25v2.2M526.13 610.55v2.2M533.17 487.25v2.2M533.17 610.55v2.2M540.21 487.25v2.2M540.21 610.55v2.2M547.25 485.45v4M547.25 610.55v4M554.29 487.25v2.2M554.29 610.55v2.2M561.33 487.25v2.2M561.33 610.55v2.2M568.37 487.25v2.2M568.37 610.55v2.2M575.41 487.25v2.2M575.41 610.55v2.2M582.45 485.45v4M582.45 610.55v4M589.49 487.25v2.2M589.49 610.55v2.2M596.53 487.25v2.2M596.53 610.55v2.2M603.57 487.25v2.2M603.57 610.55v2.2M610.6 487.25v2.2M610.6 610.55v2.2M617.64 485.45v4M617.64 610.55v4M624.68 487.25v2.2M624.68 610.55v2.2M631.72 487.25v2.2M631.72 610.55v2.2M638.76 487.25v2.2M638.76 610.55v2.2M645.8 487.25v2.2M645.8 610.55v2.2M652.84 485.45v4M652.84 610.55v4M659.88 487.25v2.2M659.88 610.55v2.2M666.92 487.25v2.2M666.92 610.55v2.2M673.96 487.25v2.2M673.96 610.55v2.2M681 487.25v2.2M681 610.55v2.2" stroke="#000" stroke-width="0.7" fill="none"/>
<path d="M385.04,565.4 392.08,566.1 399.12,564.6 406.1,566.63 413.12,558.34 420.24,572.2 427.32,580.06 434.32,576.3 441.36,576.3 448.38,574.21 455.43,579.46 462.49,573.95 469.51,577 476.54,578.33 483.6,573.37 490.64,577.29 497.63,574.12 504.76,582.14 511.75,580.1 518.79,576.9 525.83,573.2 532.76,572.01 539.74,586.88 547.02,556.45 553.88,553.14 561.14,566.89 567.85,562.09 575.11,588.5 582.28,604.97 589.13,600.96 596.47,570.95 603.27,577.2 610.3,579.7 617.32,581.01 624.38,575.46 631.42,581.4 638.46,588.4 645.51,592.24 652.54,590.6 659.58,591.77 666.62,589.03 673.66,590.3" stroke="#da1821" stroke-width="2.65" fill="none" stroke-linejoin="miter" stroke-miterlimit="10"/>
<path d="M385.04,540.1 392.08,538.1 399.13,533.26 406.16,534.3 413.2,537.56 420.24,536.2 427.28,535 434.32,531.8 441.36,528.93 448.4,530 455.45,534.32 462.47,532.15 469.46,534.51 476.6,525.75 483.61,530.75 490.64,527.54 497.67,528.7 504.7,528.67 511.75,524.71 518.79,528.11 525.83,524.9 532.87,524.9 539.9,522.87 546.95,526.5 553.99,528.2 561,528.07 568.08,534.51 575.11,528.8 582.15,526.5 589.19,523.05 596.23,524.8 603.27,527.17 610.3,525.5 617.34,521.5 624.43,513.01 631.41,513.73 638.48,519.57 645.5,520.4 652.53,519.36 659.58,524.3 666.61,526.24 673.66,522.6" stroke="#0b8ad6" stroke-width="2.65" fill="none" stroke-linejoin="miter" stroke-miterlimit="10"/>
<text x="372.5" y="614.55" text-anchor="end" class="t" textLength="6.67" lengthAdjust="spacingAndGlyphs">4</text>
<text x="372.5" y="590.33" text-anchor="end" class="t" textLength="6.67" lengthAdjust="spacingAndGlyphs">6</text>
<text x="372.5" y="566.11" text-anchor="end" class="t" textLength="6.67" lengthAdjust="spacingAndGlyphs">8</text>
<text x="372.5" y="541.89" text-anchor="end" class="t" textLength="13.34" lengthAdjust="spacingAndGlyphs">10</text>
<text x="372.5" y="517.67" text-anchor="end" class="t" textLength="13.34" lengthAdjust="spacingAndGlyphs">12</text>
<text x="372.5" y="493.45" text-anchor="end" class="t" textLength="13.34" lengthAdjust="spacingAndGlyphs">14</text>
<text x="406.46" y="625.05" text-anchor="middle" class="t" textLength="26.69" lengthAdjust="spacingAndGlyphs">1985</text>
<text x="441.66" y="625.05" text-anchor="middle" class="t" textLength="26.69" lengthAdjust="spacingAndGlyphs">1990</text>
<text x="476.85" y="625.05" text-anchor="middle" class="t" textLength="26.69" lengthAdjust="spacingAndGlyphs">1995</text>
<text x="512.05" y="625.05" text-anchor="middle" class="t" textLength="26.69" lengthAdjust="spacingAndGlyphs">2000</text>
<text x="547.25" y="625.05" text-anchor="middle" class="t" textLength="26.69" lengthAdjust="spacingAndGlyphs">2005</text>
<text x="582.45" y="625.05" text-anchor="middle" class="t" textLength="26.69" lengthAdjust="spacingAndGlyphs">2010</text>
<text x="617.64" y="625.05" text-anchor="middle" class="t" textLength="26.69" lengthAdjust="spacingAndGlyphs">2015</text>
<text x="652.84" y="625.05" text-anchor="middle" class="t" textLength="26.69" lengthAdjust="spacingAndGlyphs">2020</text>
<text x="378.6" y="483.35" class="p" style="font-size:13.6px">h)</text>
<text transform="translate(11.0 84.2) rotate(-90)" text-anchor="middle" class="p">Occurrence</text>
<text transform="translate(10.6 241.25) rotate(-90)" text-anchor="middle" class="p" style="font-size:14.3px">Duration (days)</text>
<text transform="translate(10.8 429.2) rotate(-90)" class="p">Intensity (<tspan font-size="12" dx="-0.7">°C</tspan>)</text>
<text transform="translate(13.0 608.4) rotate(-90)" class="p" style="font-size:14.2px">Grid Area /10<tspan dy="-4.6" font-size="9">6</tspan><tspan dy="4.6"> km</tspan><tspan dy="-4.6" font-size="9">2</tspan><tspan dy="4.6">)</tspan></text>
<text x="179.8" y="15" text-anchor="middle" class="ttl" style="font-size:20.3px">OSTIA</text>
<text x="526.4" y="15.1" text-anchor="middle" class="ttl" style="font-size:20.2px">OISST</text>
<path d="M51.6 41.4H79.2" stroke="#0b8ad6" stroke-width="2.65"/>
<path d="M51.6 58.1H79.2" stroke="#da1821" stroke-width="2.65"/>
<text x="84.65" y="45.2" class="p" style="font-size:14.4px">SIC &lt;= 50%</text>
<text x="85.35" y="63.3" class="p" style="font-size:14.4px">SIC 50~95%</text>
</svg>
</body></html>
